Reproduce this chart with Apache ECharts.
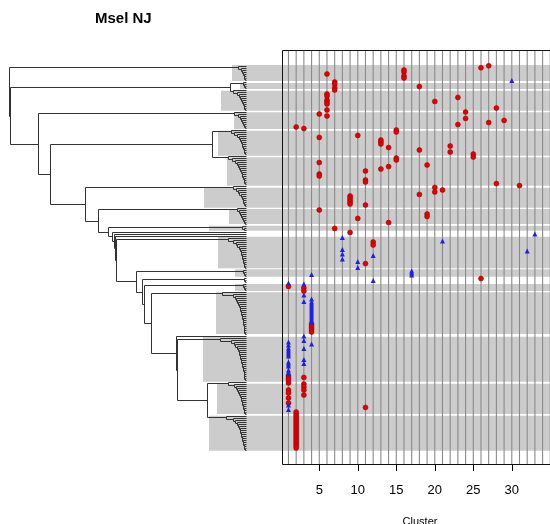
<!DOCTYPE html>
<html><head><meta charset="utf-8">
<script src="https://cdn.jsdelivr.net/npm/echarts@6/dist/echarts.min.js"></script>
<style>html,body{margin:0;padding:0;background:#fff}#c{width:550px;height:524px}</style>
</head><body><div id="c"></div>
<script>
// ---------- text ----------
const chartTitle = 'Msel NJ';
const xAxisName = 'Cluster';
const tickValues = [5, 10, 15, 20, 25, 30];
const clusterLines = [1,2,3,4,5,6,7,8,9,10,11,12,13,14,15,16,17,18,19,20,21,22,23,24,25,26,27,28,29,30,31,32,33,34,35];

// ---------- points: [cluster, leaf row] ----------
const redPoints = [
 [27,0.9],[26,1.9],[16,3],[16,4],[6,5],[16,6],[16,7],[7,9],[7,10],[18,11.3],[7,12],[7,13],
 [6,15],[6,16],[23,16.7],[6,18],[6,19],[20,18.7],[6,20],[28,22],[6,23],[24,24],[5,25],[6,26],
 [24,27.2],[29,28.2],[27,29.3],[23,30.3],[2,31.5],[3,32.3],
 [15,33],[15,34],[10,35.7],[5,36.7],[13,38],[13,39],[13,40],[22,41],[14,41.8],[18,43],[22,44],
 [25,45],[25,46.5],[15,47],[15,48],[5,49.3],[19,50.5],[14,51.3],[13,52.5],[11,53.5],[5,55],[5,56],
 [11,58],[11,59],[28,59.8],[31,60.8],[20,61.7],[21,63],[20,64],[18,65.2],
 [9,66],[9,67],[9,68],[9,69],[9,70],[11,70.5],[5,73],[19,75],[19,76.3],[10,77.2],[14,79.3],
 [7,82.2],[9,84.2],[12,89],[12,90.5],[11,99.8],[26,107.3],
 [1,111.2],[3,112],[3,113.5],[4,130],[4,131],[4,132],[4,133],[4,134],
 [3,156.7],[3,160],[3,161.5],[3,163],[3,165.5],
 [1,156],[1,157],[1,158],[1,159.5],[1,163],[1,164.5],[1,167],[1,169.5],
 [11,171.7],
 [2,174],[2,175],[2,176],[2,177],[2,178],[2,179],[2,180],[2,181],[2,182],[2,183],
 [2,184],[2,185],[2,186],[2,187],[2,188],[2,189],[2,190],[2,191],[2,192]
];
const bluePoints = [
 [30,8.2],[33,85],[8,86.8],[21,88.5],[8,92.7],[32,93.5],[8,95],[12,95.7],[8,97.5],[10,98.8],
 [10,101.7],[17,103.5],[17,104.5],[17,105.5],[4,105.2],[12,108.3],[1,109.5],[3,110],[3,115.5],
 [4,117.5],[3,118.7],[4,119],[4,120],[4,121],[4,122],[4,123],[4,124],[4,125],[4,126],[4,127],[4,128],[4,129],
 [3,136],[3,138.3],[1,139],[4,140],[1,140.5],[3,142.2],[1,142],[1,143],[1,144],[1,145],[1,146],
 [3,147.7],[3,149.7],[1,149],[1,150],[1,151],[1,153],[1,154],[1,155],[1,170.5],[1,172.7]
];

// ---------- cluster bands (rows) and their left reach (tree height) ----------
const bandTop    = [0.5, 9.5, 13.35, 24.15, 33.35, 46.65, 61.85, 72.5, 80.85, 86.35, 102.65, 110, 114.15, 136.35, 159.85, 175.85];
const bandBottom = [8.5, 12.5, 23.35, 32.5, 45.85, 60.85, 71.85, 80, 83.35, 102.15, 106.35, 113.5, 135, 158.85, 175, 193.35];
const bandLeft   = [14, 6, 25, 12, 28, 19, 42, 17, 37, 28, 11, 11, 30, 43, 29, 37];
const bandFirst  = [1, 9, 13, 24, 33, 46, 61, 72, 81, 87, 103, 110, 114, 137, 159, 176];
const bandLast   = [8, 12, 23, 32, 45, 60, 71, 80, 83, 102, 106, 113, 135, 158, 175, 193];
const bandHeights = [
 [8,5,4,3,2,1.5,1],
 [3,2,1],
 [13,9,7,5.5,4.5,3.5,3,2,1.5,1],
 [12,8,6,4.5,3.5,2.5,1.5,1],
 [15,12,9,7,6,5,4,3.5,3,2,1.5,1],
 [18,14,11,9,7.5,6.5,5.5,4.5,4,3.5,3,2,1.5,1],
 [13,10,8,6.5,5,4,3,2.5,1.5,1],
 [9,7,5.5,4.5,3.5,2.5,1.5,1],
 [4,2],
 [18,13,10,8.5,7,6,5,4.5,4,3.5,3,2.5,2,1.5,1],
 [3,2,1],
 [3,2,1],
 [24,13,11,9.5,8.5,7.5,6.5,6,5.5,5,4.5,4,3.5,3,3,2.5,2,2,1.5,1.5,1],
 [26,15,12,10.5,9,8,7,6.5,6,5.5,5,4.5,4,3.5,3,2.5,2,2,1.5,1.5,1],
 [18,12,10,8.5,7.5,6.5,5.5,5,4.5,4,3.5,3,2.5,2,1.5,1],
 [20,13,10.5,9,8,7,6,5.5,5,4.5,4,3.5,3,2.5,2,1.5,1]
];

// ---------- upper tree: [height, child, child]; 'Bn' = band subtree, number = single leaf ----------
const nodeQ  = [39, 'B15', 'B16'];
const nodeP2 = [69, 'B14', nodeQ];
const nodeP  = [70, 136, nodeP2];
const nodeO  = [95, 'B13', nodeP];
const nodeN  = [102, 'B12', nodeO];
const nodeG3 = [2, 107, [1, 108, 109]];
const nodeM  = [104, nodeG3, nodeN];
const nodeL  = [110, 'B11', nodeM];
const nodeK  = [130, 'B10', nodeL];
const nodeJ  = [131, 86, nodeK];
const nodeI  = [132, 85, nodeJ];
const nodeH  = [134, 84, nodeI];
const nodeG  = [138, 'B9', nodeH];
const nodeF  = [148, 'B8', nodeG];
const nodeE  = [161, 'B7', nodeF];
const nodeB56= [34, 'B5', 'B6'];
const nodeD  = [196, nodeB56, nodeE];
const nodeC  = [208, 'B4', nodeD];
const nodeB23= [16, 'B2', 'B3'];
const nodeR2 = [236, nodeB23, nodeC];
const rootNode = [237, 'B1', nodeR2];

// ---------- build ----------
function ladder(first, last, hs) {
  if (first >= last) return first;
  const h = hs.length ? hs[0] : 0.5;
  return [h, first, ladder(first + 1, last, hs.slice(1))];
}
function resolve(n) {
  if (typeof n === 'string') { const i = +n.slice(1) - 1; return ladder(bandFirst[i], bandLast[i], bandHeights[i]); }
  if (typeof n === 'number') return n;
  return [n[0], resolve(n[1]), resolve(n[2])];
}
const segs = [];
function lay(n) {
  if (typeof n === 'number') return { y: n, h: 0 };
  const a = lay(n[1]), b = lay(n[2]);
  segs.push([a.h, a.y, n[0], a.y], [b.h, b.y, n[0], b.y], [n[0], a.y, n[0], b.y]);
  return { y: (a.y + b.y) / 2, h: n[0] };
}
lay(resolve(rootNode));

const X_MIN = 0.16, X_MAX = 36, Y_MIN = -7, Y_MAX = 200;
const FONT = 'Liberation Sans, Arial, Helvetica, sans-serif';
const crisp = v => Math.round(v - 0.5) + 0.5;

const bands0 = bandTop.map((t, i) => [bandLeft[i], t, bandBottom[i]]);
const bands1 = bandTop.map((t, i) => [X_MIN, t, bandBottom[i]]);

const chart = echarts.init(document.getElementById('c'), null, { renderer: 'canvas' });
chart.setOption({
  animation: false,
  backgroundColor: '#ffffff',
  title: { text: chartTitle, left: 95, top: 11, padding: 0, textStyle: { fontSize: 15, fontWeight: 'bold', color: '#000', fontFamily: FONT } },
  grid: [
    { left: 9, top: 50, width: 273, height: 414, containLabel: false, outerBoundsMode: 'none' },
    { left: 282, top: 50, width: 276, height: 414, containLabel: false, outerBoundsMode: 'none' }
  ],
  xAxis: [
    { gridIndex: 0, type: 'value', min: -36, max: 237, inverse: true, show: false },
    { gridIndex: 1, type: 'value', min: X_MIN, max: X_MAX, position: 'bottom', splitLine: { show: false },
      axisLine: { show: false, onZero: false },
      axisTick: { show: true, customValues: tickValues, length: 7, lineStyle: { color: '#000', width: 1 } },
      axisLabel: { customValues: tickValues, fontSize: 13, color: '#000', margin: 20, fontFamily: FONT },
      name: xAxisName, nameLocation: 'middle', nameGap: 52,
      nameTextStyle: { fontSize: 11, color: '#000', fontFamily: FONT } }
  ],
  yAxis: [
    { gridIndex: 0, type: 'value', min: Y_MIN, max: Y_MAX, inverse: true, show: false },
    { gridIndex: 1, type: 'value', min: Y_MIN, max: Y_MAX, inverse: true, show: false }
  ],
  series: [
    { type: 'custom', xAxisIndex: 0, yAxisIndex: 0, z: 1, silent: true, data: bands0, encode: { x: 0, y: [1, 2] },
      renderItem(params, api) {
        const p1 = api.coord([api.value(0), api.value(1)]);
        const p2 = api.coord([api.value(0), api.value(2)]);
        const x2 = params.coordSys.x + params.coordSys.width;
        return { type: 'rect', shape: { x: Math.round(p1[0]), y: p1[1], width: x2 - Math.round(p1[0]), height: p2[1] - p1[1] }, style: { fill: '#cccccc' } };
      } },
    { type: 'custom', xAxisIndex: 0, yAxisIndex: 0, z: 3, silent: true, data: segs, encode: { x: [0, 2], y: [1, 3] },
      renderItem(params, api) {
        const p1 = api.coord([api.value(0), api.value(1)]);
        const p2 = api.coord([api.value(2), api.value(3)]);
        return { type: 'line', shape: { x1: crisp(p1[0]), y1: crisp(p1[1]), x2: crisp(p2[0]), y2: crisp(p2[1]) }, style: { stroke: '#333', lineWidth: 1 } };
      } },
    { type: 'custom', xAxisIndex: 1, yAxisIndex: 1, z: 1, silent: true, data: bands1, encode: { x: 0, y: [1, 2] },
      renderItem(params, api) {
        const p1 = api.coord([api.value(0), api.value(1)]);
        const p2 = api.coord([api.value(0), api.value(2)]);
        return { type: 'rect', shape: { x: params.coordSys.x, y: p1[1], width: params.coordSys.width, height: p2[1] - p1[1] }, style: { fill: '#cccccc' } };
      } },
    { type: 'custom', xAxisIndex: 1, yAxisIndex: 1, z: 2, silent: true, data: clusterLines.map(c => [c, 0]), encode: { x: 0, y: 1 },
      renderItem(params, api) {
        const p = api.coord([api.value(0), 0]);
        const cs = params.coordSys;
        return { type: 'line', shape: { x1: p[0], y1: cs.y, x2: p[0], y2: cs.y + cs.height }, style: { stroke: '#8a8a8a', lineWidth: 1.1 } };
      } },
    { type: 'scatter', xAxisIndex: 1, yAxisIndex: 1, z: 4, silent: true, data: redPoints, symbol: 'circle', symbolSize: 5,
      itemStyle: { color: '#e30000', borderColor: '#9a0000', borderWidth: 0.5, opacity: 1 } },
    { type: 'scatter', xAxisIndex: 1, yAxisIndex: 1, z: 5, silent: true, data: bluePoints, symbol: 'triangle', symbolSize: [5, 5],
      itemStyle: { color: '#1f1fe6', opacity: 1 } },
    { type: 'custom', xAxisIndex: 1, yAxisIndex: 1, z: 10, silent: true, data: [[X_MIN, 0]], encode: { x: 0, y: 1 },
      renderItem(params, api) {
        const cs = params.coordSys;
        return { type: 'rect', shape: { x: crisp(cs.x), y: crisp(cs.y), width: Math.round(cs.width), height: Math.round(cs.height) }, style: { fill: null, stroke: '#111', lineWidth: 1 } };
      } }
  ]
});
</script>
</body></html>
